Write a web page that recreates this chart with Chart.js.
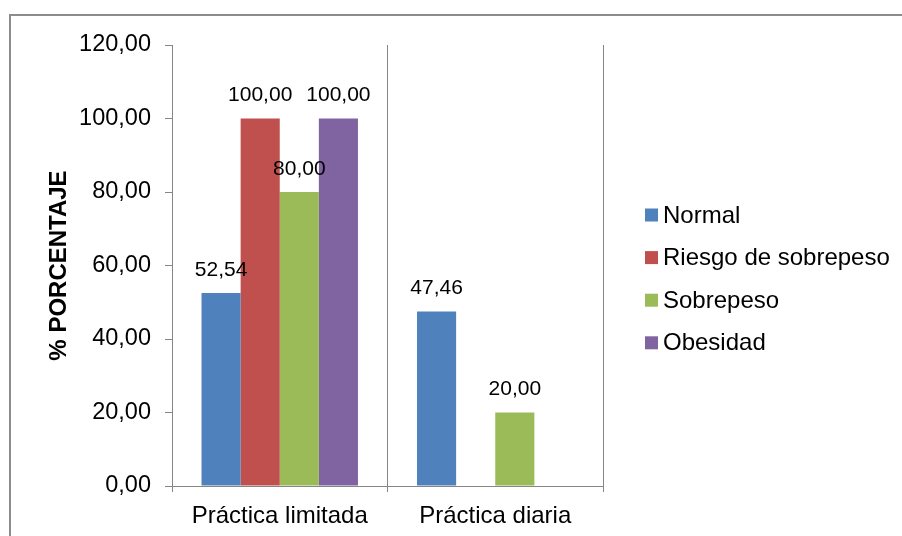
<!DOCTYPE html>
<html>
<head>
<meta charset="utf-8">
<script src="https://cdn.jsdelivr.net/npm/chart.js@4.4.1/dist/chart.umd.min.js"></script>
<style>
  html, body { margin: 0; padding: 0; background: #ffffff; }
  #wrap { width: 902px; height: 536px; position: relative; }
</style>
</head>
<body>
<div id="wrap"><canvas id="c" width="902" height="536"></canvas></div>
<script>
// Categories and series (percentages)
const categories = ['Práctica limitada', 'Práctica diaria'];
const seriesNames = ['Normal', 'Riesgo de sobrepeso', 'Sobrepeso', 'Obesidad'];
const normal = [52.54, 47.46];
const riesgo = [100.00, null];
const sobrepeso = [80.00, 20.00];
const obesidad = [100.00, null];
const yTicks = [0, 20, 40, 60, 80, 100, 120];
const seriesColors = ['#4F81BD', '#C0504D', '#9BBB59', '#8064A2'];

const FONT = "'Liberation Sans', Arial, sans-serif";
const FS_AXIS = 23.5;
const FS_CAT = 24;
const FS_LEGEND = 24;
const FS_VALUE = 21;
const AXIS_GRAY = '#868686';

const fmt = v => v.toFixed(2).replace('.', ',');

// Outer frame of the chart
const framePlugin = {
  id: 'frame',
  beforeDraw(chart) {
    const ctx = chart.ctx;
    ctx.save();
    ctx.strokeStyle = '#8c8c8c';
    ctx.lineWidth = 2;
    ctx.strokeRect(10, 15, 1000, 1000);
    ctx.restore();
  }
};

// Value labels above each bar
const valueLabels = {
  id: 'valueLabels',
  afterDatasetsDraw(chart) {
    const ctx = chart.ctx;
    ctx.save();
    ctx.font = FS_VALUE + 'px ' + FONT;
    ctx.fillStyle = '#000';
    ctx.textAlign = 'center';
    ctx.textBaseline = 'middle';
    chart.data.datasets.forEach((ds, i) => {
      const meta = chart.getDatasetMeta(i);
      meta.data.forEach((bar, j) => {
        const v = ds.data[j];
        if (v === null || v === undefined) return;
        ctx.fillText(fmt(v), bar.x, bar.y - 23);
      });
    });
    ctx.restore();
  }
};

// Legend on the right, one entry per series
const sideLegend = {
  id: 'sideLegend',
  afterDraw(chart) {
    const ctx = chart.ctx;
    const area = chart.chartArea;
    const x0 = area.right + 42;
    const yStart = 215;
    const step = 42.6;
    ctx.save();
    ctx.font = FS_LEGEND + 'px ' + FONT;
    ctx.textBaseline = 'middle';
    ctx.textAlign = 'left';
    chart.data.datasets.forEach((ds, i) => {
      const y = yStart + i * step;
      ctx.fillStyle = ds.backgroundColor;
      ctx.fillRect(x0, y - 6.5, 13, 13);
      ctx.fillStyle = '#000';
      ctx.fillText(ds.label, x0 + 18, y + 1);
    });
    ctx.restore();
  }
};

const seriesData = [normal, riesgo, sobrepeso, obesidad];

new Chart(document.getElementById('c'), {
  type: 'bar',
  data: {
    labels: categories,
    datasets: seriesNames.map((name, i) => ({
      label: name,
      data: seriesData[i],
      backgroundColor: seriesColors[i],
      borderWidth: 0,
      barPercentage: 1.0,
      categoryPercentage: 0.726
    }))
  },
  options: {
    responsive: false,
    animation: false,
    devicePixelRatio: 1,
    layout: { padding: { top: 45, left: 45, right: 299, bottom: 0 } },
    plugins: {
      legend: { display: false },
      tooltip: { enabled: false }
    },
    scales: {
      x: {
        offset: true,
        afterFit(scale) { scale.height = 50; },
        grid: {
          offset: true,
          color: AXIS_GRAY,
          lineWidth: 1,
          tickLength: 6,
          tickColor: AXIS_GRAY
        },
        border: { display: true, color: AXIS_GRAY, width: 1 },
        ticks: {
          color: '#000',
          font: { family: FONT, size: FS_CAT },
          padding: 10
        }
      },
      y: {
        min: 0,
        max: 120,
        afterFit(scale) { scale.width = 127; },
        afterBuildTicks(scale) {
          scale.ticks = yTicks.map(v => ({ value: v }));
        },
        grid: {
          drawOnChartArea: false,
          tickLength: 7,
          tickColor: AXIS_GRAY
        },
        border: { display: true, color: AXIS_GRAY, width: 1 },
        ticks: {
          color: '#000',
          font: { family: FONT, size: FS_AXIS },
          padding: 14,
          callback: v => fmt(v)
        },
        title: {
          display: true,
          text: '% PORCENTAJE',
          color: '#000',
          font: { family: FONT, size: 24, weight: 'bold' },
          padding: { top: 0, bottom: 0 }
        }
      }
    }
  },
  plugins: [framePlugin, valueLabels, sideLegend]
});
</script>
</body>
</html>
